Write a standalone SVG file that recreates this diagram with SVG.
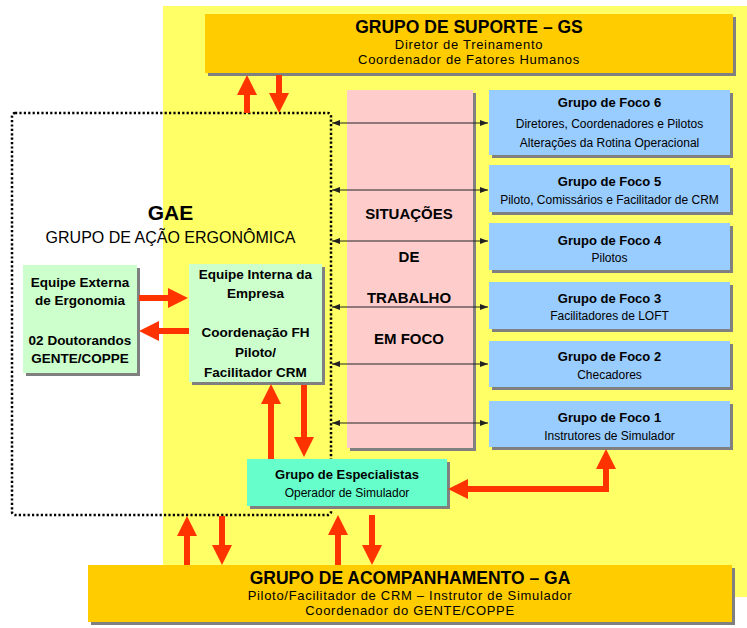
<svg xmlns="http://www.w3.org/2000/svg" width="747" height="628" viewBox="0 0 747 628">
<defs>
<marker id="big" viewBox="0 0 20 20" refX="8" refY="10" markerWidth="20" markerHeight="20" markerUnits="userSpaceOnUse" orient="auto-start-reverse"><path d="M0,0 L20,10 L0,20 z" fill="#FF3300"/></marker>
<marker id="thin" viewBox="0 0 8 6" refX="8" refY="3" markerWidth="8" markerHeight="6" markerUnits="userSpaceOnUse" orient="auto-start-reverse"><path d="M0,0 L8,3 L0,6 z" fill="#222"/></marker>
</defs>
<style>
text{font-family:"Liberation Sans",Arial,sans-serif;text-anchor:middle;fill:#000}
.t{font-weight:bold;font-size:17.5px}
.s{font-size:13px;letter-spacing:0.7px}
.b{font-weight:bold;font-size:13px}
.g{font-weight:bold;font-size:13.5px}
.p{font-weight:bold;font-size:15px}
.r{font-size:12px}
.sh{fill:#808080}
.gold{fill:#FFCC00}
.blue{fill:#99CCFF}
.green{fill:#CCFFCC}
.big{stroke:#FF3300;stroke-width:6;fill:none;marker-end:url(#big)}
.dbl{marker-start:url(#big)}
.thin{stroke:#222;stroke-width:1;fill:none;marker-start:url(#thin);marker-end:url(#thin)}
.dot{fill:none;stroke:#000;stroke-width:2.5;stroke-dasharray:2.2 2.2}
</style>
<rect x="163" y="6" width="584" height="591" fill="#FFFF66"/>
<rect class="dot" x="12" y="113" width="319" height="402" rx="3"/>

<g id="gs">
<rect class="sh" x="208" y="17" width="528" height="59"/>
<rect class="gold" x="205" y="14" width="528" height="59"/>
<text class="t" x="469" y="33">GRUPO DE SUPORTE – GS</text>
<text class="s" x="469" y="49">Diretor de Treinamento</text>
<text class="s" x="469" y="64">Coordenador de Fatores Humanos</text>
</g>

<g id="ga">
<rect class="sh" x="91" y="568" width="644" height="57"/>
<rect class="gold" x="88" y="565" width="644" height="57"/>
<text class="t" x="410" y="584">GRUPO DE ACOMPANHAMENTO – GA</text>
<text class="s" x="410" y="600">Piloto/Facilitador de CRM – Instrutor de Simulador</text>
<text class="s" x="410" y="615">Coordenador do GENTE/COPPE</text>
</g>

<g id="gae">
<text x="170.5" y="220" font-weight="bold" font-size="21">GAE</text>
<text x="170.5" y="243" font-size="16">GRUPO DE AÇÃO ERGONÔMICA</text>
</g>

<g id="externa">
<rect class="sh" x="26" y="268" width="114" height="108"/>
<rect class="green" x="23" y="265" width="114" height="108"/>
<text class="g" x="80" y="287">Equipe Externa</text>
<text class="g" x="80" y="305">de Ergonomia</text>
<text class="g" x="80" y="345">02 Doutorandos</text>
<text class="g" x="80" y="363">GENTE/COPPE</text>
</g>

<g id="interna">
<rect class="sh" x="192" y="267" width="133" height="118"/>
<rect class="green" x="189" y="264" width="133" height="118"/>
<text class="g" x="255.5" y="279">Equipe Interna da</text>
<text class="g" x="255.5" y="298">Empresa</text>
<text class="g" x="255.5" y="337">Coordenação FH</text>
<text class="g" x="255.5" y="357">Piloto/</text>
<text class="g" x="255.5" y="377">Facilitador CRM</text>
</g>

<g id="situacoes">
<rect class="sh" x="350" y="93" width="126" height="358"/>
<rect x="347" y="90" width="126" height="358" fill="#FFCCCC"/>
<text class="p" x="409" y="219">SITUAÇÕES</text>
<text class="p" x="409" y="262">DE</text>
<text class="p" x="409" y="303">TRABALHO</text>
<text class="p" x="409" y="344">EM FOCO</text>
</g>

<g id="foco6">
<rect class="sh" x="492" y="93" width="241" height="65"/>
<rect class="blue" x="489" y="90" width="241" height="65"/>
<text class="b" x="609.5" y="107">Grupo de Foco 6</text>
<text class="r" x="609.5" y="128">Diretores, Coordenadores e Pilotos</text>
<text class="r" x="609.5" y="147">Alterações da Rotina Operacional</text>
</g>
<g id="foco5">
<rect class="sh" x="492" y="168" width="241" height="47"/>
<rect class="blue" x="489" y="165" width="241" height="47"/>
<text class="b" x="609.5" y="186">Grupo de Foco 5</text>
<text class="r" x="609.5" y="204">Piloto, Comissários e Facilitador de CRM</text>
</g>
<g id="foco4">
<rect class="sh" x="492" y="226" width="241" height="47"/>
<rect class="blue" x="489" y="223" width="241" height="47"/>
<text class="b" x="609.5" y="245">Grupo de Foco 4</text>
<text class="r" x="609.5" y="262">Pilotos</text>
</g>
<g id="foco3">
<rect class="sh" x="492" y="285" width="241" height="47"/>
<rect class="blue" x="489" y="282" width="241" height="47"/>
<text class="b" x="609.5" y="303">Grupo de Foco 3</text>
<text class="r" x="609.5" y="320">Facilitadores de LOFT</text>
</g>
<g id="foco2">
<rect class="sh" x="492" y="344" width="241" height="46"/>
<rect class="blue" x="489" y="341" width="241" height="46"/>
<text class="b" x="609.5" y="361">Grupo de Foco 2</text>
<text class="r" x="609.5" y="379">Checadores</text>
</g>
<g id="foco1">
<rect class="sh" x="492" y="404" width="241" height="46"/>
<rect class="blue" x="489" y="401" width="241" height="46"/>
<text class="b" x="609.5" y="422">Grupo de Foco 1</text>
<text class="r" x="609.5" y="440">Instrutores de Simulador</text>
</g>

<g id="especialistas">
<rect class="sh" x="250" y="462" width="200" height="47"/>
<rect x="247" y="459" width="200" height="47" fill="#66FFCC"/>
<text class="b" x="347" y="479">Grupo de Especialistas</text>
<text class="r" x="347" y="497">Operador de Simulador</text>
</g>

<g id="connectors">
<path class="big" d="M247,113 V87"/>
<path class="big" d="M279,75 V101"/>
<path class="big" d="M139,298 H176"/>
<path class="big" d="M189,331 H151"/>
<path class="big" d="M271,459 V396"/>
<path class="big" d="M304,385 V445"/>
<path class="big dbl" d="M606,461 V489 H460"/>
<path class="big" d="M187,565 V528"/>
<path class="big" d="M222,516 V553"/>
<path class="big" d="M338,565 V527"/>
<path class="big" d="M372,515 V553"/>
<path class="thin" d="M332,123 H488"/>
<path class="thin" d="M332,190 H488"/>
<path class="thin" d="M332,241 H488"/>
<path class="thin" d="M332,307 H488"/>
<path class="thin" d="M332,364 H488"/>
<path class="thin" d="M332,423 H488"/>
</g>
</svg>
